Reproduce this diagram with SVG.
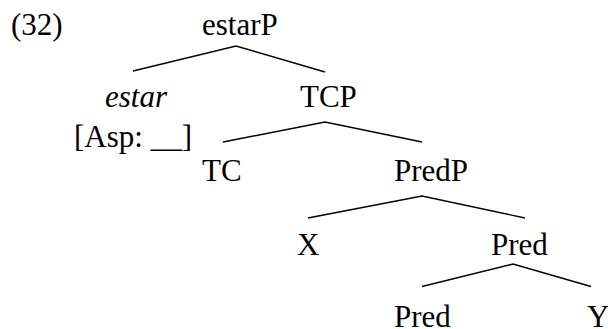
<svg xmlns="http://www.w3.org/2000/svg" width="608" height="329" viewBox="0 0 608 329">
<style>
text{font-family:"Liberation Serif","Times New Roman",serif;font-size:31px;fill:#000}
.it{font-style:italic}
.edge{stroke:#000;stroke-width:1.4;fill:none}
</style>
<rect width="608" height="329" fill="#fff"/>
<g id="label-32"><text x="11" y="35">(32)</text></g>
<g id="connectors">
<polyline class="edge" points="133,71 236,46 325,72"/>
<polyline class="edge" points="223,142 325,122 422,142"/>
<polyline class="edge" points="308,218 422,196 525,218"/>
<polyline class="edge" points="422,286.5 513,264 591,286.5"/>
</g>
<g id="node-estarP"><text x="202" y="35">estarP</text></g>
<g id="node-estar"><text class="it" x="105" y="106.5">estar</text><text x="74" y="146.5">[Asp: __]</text></g>
<g id="node-TCP"><text x="300" y="106.5">TCP</text></g>
<g id="node-TC"><text x="202" y="181">TC</text></g>
<g id="node-PredP"><text x="394" y="181">PredP</text></g>
<g id="node-X"><text x="297" y="255">X</text></g>
<g id="node-Pred1"><text x="491" y="255">Pred</text></g>
<g id="node-Pred2"><text x="394" y="326.5">Pred</text></g>
<g id="node-Y"><text x="587" y="326.5">Y</text></g>
</svg>
